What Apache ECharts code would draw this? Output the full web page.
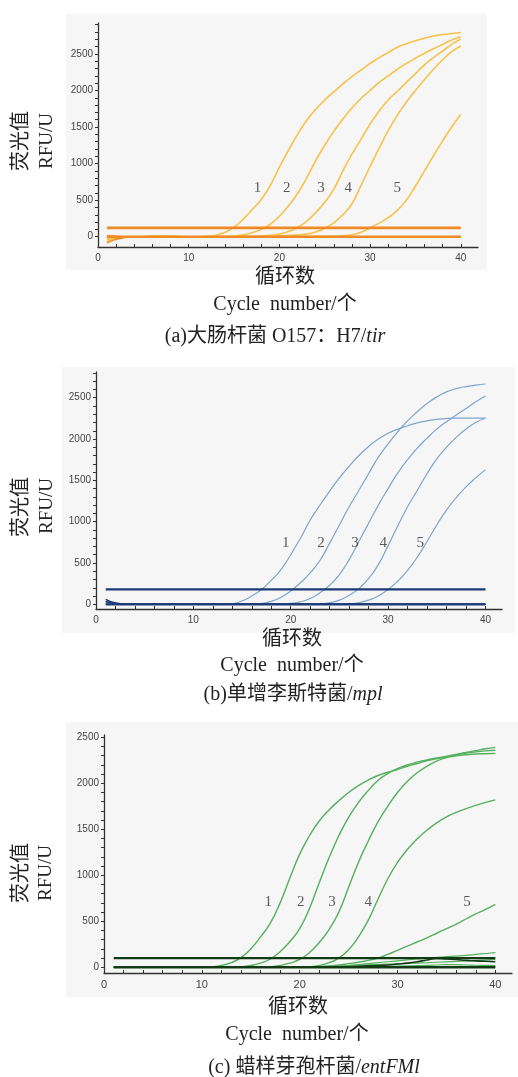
<!DOCTYPE html>
<html><head><meta charset="utf-8">
<script src="https://cdn.jsdelivr.net/npm/echarts@6/dist/echarts.min.js"></script>
<style>html,body{margin:0;padding:0;background:#fff}#c{width:518px;height:1077px}</style>
</head><body><div id="c"></div>
<script>
const cycles = [1,2,3,4,5,6,7,8,9,10,11,12,13,14,15,16,17,18,19,20,21,22,23,24,25,26,27,28,29,30,31,32,33,34,35,36,37,38,39,40];
const xTickLabels = [0,10,20,30,40];
const yTickLabels = [0,500,1000,1500,2000,2500];

// (a) 大肠杆菌 O157:H7 / tir
const A1 = [-70,-25,-8,-3,0,5,8,5,2,0,0,5,20,60,130,240,370,510,700,950,1180,1400,1590,1740,1870,1980,2090,2190,2280,2370,2450,2520,2590,2640,2680,2715,2745,2765,2780,2792];
const A2 = [-50,-15,-5,0,0,3,6,4,0,0,0,0,2,5,10,25,55,100,170,280,420,590,800,1040,1250,1440,1610,1760,1890,2000,2110,2200,2290,2370,2440,2510,2570,2630,2690,2736];
const A3 = [-40,-10,-3,0,0,2,5,3,0,0,0,0,0,0,2,4,6,10,18,35,70,125,210,330,470,650,900,1130,1330,1540,1720,1870,1990,2110,2230,2350,2450,2540,2630,2705];
const A4 = [-30,-5,0,0,0,2,4,2,0,0,0,0,0,0,0,2,3,5,8,12,18,25,35,65,115,190,300,450,700,960,1210,1450,1660,1840,2000,2150,2290,2420,2530,2609];
const A5 = [-20,0,0,0,0,2,3,2,0,0,0,0,0,0,0,0,0,0,0,0,2,3,4,5,6,8,12,25,60,120,185,260,360,500,690,900,1110,1310,1500,1674];
const negA1 = [-85,-35,-10,-2,0,0,0,0,0,0,0,0,0,0,0,0,0,0,0,0,0,0,0,0,0,0,0,0,0,0,0,0,0,0,0,0,0,0,0,0];
const negA2 = [15,5,0,0,0,0,0,0,0,0,0,0,0,0,0,0,0,0,0,0,0,0,0,0,0,0,0,0,0,0,0,0,0,0,0,0,0,0,0,0];
const thresholdA = 120;
const labelNames = ['1','2','3','4','5'];
const labelXA = [17.6,20.8,24.6,27.6,33.0];
const labelYA = 660;

// (b) 单增李斯特菌 / mpl
const B1 = [40,10,3,0,0,0,0,0,0,0,0,0,2,8,40,100,180,290,420,600,800,1020,1200,1370,1530,1670,1800,1910,2000,2070,2120,2160,2195,2220,2238,2248,2252,2252,2252,2252];
const B2 = [30,8,2,0,0,0,0,0,0,0,0,0,0,0,0,2,10,35,85,160,260,380,530,740,960,1180,1380,1580,1780,1940,2090,2220,2330,2430,2510,2570,2610,2635,2652,2666];
const B3 = [20,5,0,0,0,0,0,0,0,0,0,0,0,0,0,0,0,2,5,12,30,70,140,230,360,540,760,980,1200,1400,1590,1750,1890,2010,2120,2210,2290,2370,2450,2521];
const B4 = [10,0,0,0,0,0,0,0,0,0,0,0,0,0,0,0,0,0,0,0,0,0,5,20,50,110,190,310,480,710,950,1180,1380,1580,1760,1900,2020,2120,2200,2251];
const B5 = [5,0,0,0,0,0,0,0,0,0,0,0,0,0,0,0,0,0,0,0,0,0,0,0,0,5,20,50,100,180,280,410,570,760,960,1140,1290,1420,1530,1630];
const negB1 = [60,15,3,0,0,0,0,0,0,0,0,0,0,0,0,0,0,0,0,0,0,0,0,0,0,0,0,0,0,0,0,0,0,0,0,0,0,0,0,0];
const negB2 = [35,8,0,0,0,0,0,0,0,0,0,0,0,0,0,0,0,0,0,0,0,0,0,0,0,0,0,0,0,0,0,0,0,0,0,0,0,0,0,0];
const thresholdB = 180;
const labelXB = [19.5,23.1,26.6,29.5,33.3];
const labelYB = 746;

// (c) 蜡样芽孢杆菌 / entFMl
const C1 = [0,0,0,0,0,0,0,0,0,0,5,20,50,105,200,330,480,700,970,1230,1430,1590,1710,1810,1900,1975,2035,2085,2120,2150,2185,2215,2245,2265,2285,2300,2310,2318,2322,2325];
const C2 = [0,0,0,0,0,0,0,0,0,0,0,0,0,5,20,45,90,170,280,420,640,920,1190,1430,1630,1790,1920,2030,2105,2160,2200,2230,2255,2275,2295,2315,2330,2342,2352,2360];
const C3 = [0,0,0,0,0,0,0,0,0,0,0,0,0,0,0,0,5,20,45,85,160,270,410,600,870,1140,1370,1580,1750,1900,2020,2115,2185,2240,2280,2310,2335,2355,2375,2390];
const C4 = [0,0,0,0,0,0,0,0,0,0,0,0,0,0,0,0,0,0,0,0,5,20,50,100,190,330,510,740,960,1140,1280,1395,1490,1570,1635,1685,1725,1760,1792,1820];
const C5 = [0,0,0,0,0,0,0,0,0,0,0,0,0,0,0,0,0,0,0,0,0,8,15,25,40,55,75,100,140,185,230,275,320,370,420,470,525,580,630,685];
const CN1 = [0,0,0,0,0,0,0,0,0,0,0,0,0,0,0,0,0,0,0,0,0,0,5,10,20,30,40,50,60,70,80,90,100,108,115,122,130,140,150,160];
const CN2 = [0,0,0,0,0,0,0,0,0,0,0,0,0,0,0,0,0,0,0,0,3,6,10,14,18,22,26,30,34,38,42,46,50,55,60,65,70,75,80,87];
const CN3 = [0,0,0,0,0,0,0,0,0,0,0,0,0,0,0,0,0,0,0,0,0,0,0,0,5,10,15,20,25,35,45,60,80,95,90,85,75,70,65,60];
const CN4 = [0,0,0,0,0,0,0,0,0,0,0,0,0,0,0,0,0,0,0,0,0,0,0,0,0,0,3,6,9,12,15,18,20,25,30,28,25,22,20,18];
const thresholdC = 100;
const labelXC = [16.8,20.1,23.3,27.0,37.1];
const labelYC = 705;

const panels = [
  {grid:{left:98,top:23,width:380,height:224}, xmax:41.9, ymin:-141, ymax:2923,
   curves:[A1,A2,A3,A4,A5], curveColor:'#f6c24a', curveWidth:1.6,
   extras:[], darks:[negA1,negA2], darkColor:'#f08a26', darkWidth:2.6, threshold:thresholdA,
   lx:labelXA, ly:labelYA, labelSize:10},
  {grid:{left:96,top:372,width:406,height:237}, xmax:41.7, ymin:-57, ymax:2811,
   curves:[B1,B2,B3,B4,B5], curveColor:'#7ea5cf', curveWidth:1.2,
   extras:[], darks:[negB1,negB2], darkColor:'#1d3a78', darkWidth:2.2, threshold:thresholdB,
   lx:labelXB, ly:labelYB, labelSize:10},
  {grid:{left:104,top:735,width:408,height:238}, xmax:41.7, ymin:-62, ymax:2525,
   curves:[C1,C2,C3,C4,C5], curveColor:'#55b05e', curveWidth:1.4,
   extras:[CN1,CN2,CN4], darks:[CN3], darkColor:'#123a14', darkWidth:2.4, threshold:thresholdC,
   lx:labelXC, ly:labelYC, labelSize:11}
];

const grids=[], xAxes=[], yAxes=[], series=[];
const xMinor=[]; for(let v=2; v<=40; v+=2) xMinor.push(v);
panels.forEach((p,i)=>{
  grids.push(Object.assign({containLabel:false}, p.grid));
  xAxes.push({type:'value', gridIndex:i, min:0, max:p.xmax,
    axisLine:{onZero:false, lineStyle:{color:'#333', width:1.3}},
    axisTick:{inside:true, length:3, customValues:xMinor, lineStyle:{color:'#333', width:1}},
    axisLabel:{customValues:xTickLabels, formatter:v=>String(v), fontSize:p.labelSize, color:'#444', margin:6, fontFamily:'Liberation Sans, Arial, sans-serif'},
    splitLine:{show:false}});
  const yMinor=[]; for(let v=0; v<=p.ymax; v+=100) yMinor.push(v);
  yAxes.push({type:'value', gridIndex:i, min:p.ymin, max:p.ymax,
    axisLine:{show:true, onZero:false, lineStyle:{color:'#333', width:1.3}},
    axisTick:{show:true, length:3, customValues:yMinor, lineStyle:{color:'#333', width:1}},
    axisLabel:{customValues:yTickLabels, formatter:v=>String(v), fontSize:10, color:'#444', margin:5, fontFamily:'Liberation Sans, Arial, sans-serif'},
    splitLine:{show:false}});
  const mk = arr => cycles.map((c,k)=>[c, arr[k]]);
  p.extras.forEach(arr=>series.push({type:'line', xAxisIndex:i, yAxisIndex:i, data:mk(arr), showSymbol:false, smooth:0.5, lineStyle:{color:p.curveColor, width:1.2}, z:2, silent:true}));
  p.curves.forEach(arr=>series.push({type:'line', xAxisIndex:i, yAxisIndex:i, data:mk(arr), showSymbol:false, smooth:0.5, lineStyle:{color:p.curveColor, width:p.curveWidth}, z:2, silent:true}));
  p.darks.forEach(arr=>series.push({type:'line', xAxisIndex:i, yAxisIndex:i, data:mk(arr), showSymbol:false, smooth:0.5, lineStyle:{color:p.darkColor, width:1.6}, z:3, silent:true}));
  series.push({type:'line', xAxisIndex:i, yAxisIndex:i, data:[[cycles[0],0],[cycles[cycles.length-1],0]], showSymbol:false, lineStyle:{color:p.darkColor, width:p.darkWidth}, z:4, silent:true});
  series.push({type:'line', xAxisIndex:i, yAxisIndex:i, data:[[cycles[0],p.threshold],[cycles[cycles.length-1],p.threshold]], showSymbol:false, lineStyle:{color:p.darkColor, width:p.darkWidth}, z:4, silent:true});
  series.push({type:'scatter', xAxisIndex:i, yAxisIndex:i, symbolSize:1, itemStyle:{color:'rgba(0,0,0,0)'},
    data:labelNames.map((n,k)=>({name:n, value:[p.lx[k], p.ly]})), z:6, silent:true,
    label:{show:true, position:'inside', formatter:q=>q.name, fontFamily:'Liberation Serif, Times New Roman, serif', fontSize:15, color:'#333'}});
});

const serif = '"Liberation Serif","Noto Sans CJK SC",serif';
function txt(x,y,text,size,rot,rich){
  const st = {text:text, x:0, y:0, fontSize:size, fontFamily:serif, fill:'#222',
    textAlign:'center', align:'center', textVerticalAlign:'middle', verticalAlign:'middle'};
  if(rich) st.rich = rich;
  return {type:'text', x:x, y:y, rotation:rot||0, style:st, silent:true, z:10};
}
const ital = {i:{fontStyle:'italic', fontFamily:'"Liberation Serif",serif', fontSize:20, fill:'#222'}};
const graphic = [
  {type:'rect', shape:{x:66,y:14,width:421,height:256}, style:{fill:'#f6f6f6'}, z:-10, silent:true},
  {type:'rect', shape:{x:62,y:367,width:453,height:266}, style:{fill:'#f6f6f6'}, z:-10, silent:true},
  {type:'rect', shape:{x:66,y:722,width:452,height:275}, style:{fill:'#f6f6f6'}, z:-10, silent:true},
  txt(22,141,'荧光值',20,Math.PI/2), txt(47,141,'RFU/U',19,Math.PI/2),
  txt(285,278,'循环数',20), txt(285,305,'Cycle  number/个',20),
  txt(275,337,'(a)大肠杆菌 O157：H7/{i|tir}',20,0,ital),
  txt(22,507,'荧光值',20,Math.PI/2), txt(47,506,'RFU/U',19,Math.PI/2),
  txt(292,640,'循环数',20), txt(292,666,'Cycle  number/个',20),
  txt(293,695,'(b)单增李斯特菌/{i|mpl}',20,0,ital),
  txt(22,873,'荧光值',20,Math.PI/2), txt(46,873,'RFU/U',19,Math.PI/2),
  txt(298,1008,'循环数',20), txt(297,1035,'Cycle  number/个',20),
  txt(314,1068,'(c) 蜡样芽孢杆菌/{i|entFMl}',20,0,ital)
];

const chart = echarts.init(document.getElementById('c'), null, {renderer:'canvas'});
chart.setOption({animation:false, backgroundColor:'#fff', grid:grids, xAxis:xAxes, yAxis:yAxes, series:series, graphic:graphic});
</script></body></html>
